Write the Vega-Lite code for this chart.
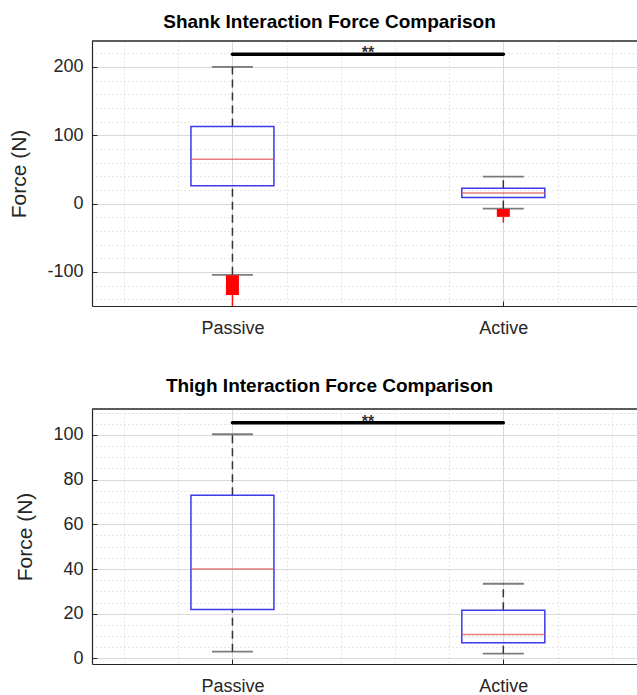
{
  "$schema": "https://vega.github.io/schema/vega-lite/v6.json",
  "background": "white",
  "padding": {"left": 8, "top": 13, "right": 0, "bottom": 0},
  "spacing": 39,
  "config": {
    "view": {"stroke": null},
    "font": "Liberation Sans",
    "title": {"font": "Liberation Sans", "fontSize": 19, "fontWeight": "bold", "color": "#000000", "offset": 8, "frame": "group"},
    "axis": {
      "labelFont": "Liberation Sans", "labelFontSize": 18, "labelColor": "#262626", "labelOverlap": false,
      "titleFont": "Liberation Sans", "titleFontSize": 21, "titleFontWeight": "normal", "titleColor": "#262626",
      "domainColor": "#262626", "domainWidth": 1.2, "tickColor": "#262626", "tickSize": -5, "tickWidth": 1,
      "grid": true
    }
  },
  "datasets": {
    "shank": [
      {"group": "Passive", "pos": 1, "lo": -104.4, "q1": 25.9, "median": 64.9, "q3": 112.7, "hi": 200, "outLo": -134, "outHi": -105, "tailLo": -150, "tailHi": -134},
      {"group": "Active", "pos": 2, "lo": -7.3, "q1": 8.8, "median": 15.6, "q3": 22.4, "hi": 39.5, "outLo": -19.5, "outHi": -8, "tailLo": -28, "tailHi": -19.5}
    ],
    "thigh": [
      {"group": "Passive", "pos": 1, "lo": 3.0, "q1": 21.9, "median": 40.0, "q3": 73.0, "hi": 100.3},
      {"group": "Active", "pos": 2, "lo": 2.1, "q1": 7.0, "median": 10.7, "q3": 21.5, "hi": 33.4}
    ]
  },
  "vconcat": [
    {
      "title": {"text": "Shank Interaction Force Comparison", "dx": -35},
      "width": 545,
      "height": 265,
      "data": {"name": "shank"},
      "layer": [
        {
          "mark": {"type": "rule", "color": "#333333", "strokeWidth": 1.5, "strokeDash": [8, 5]},
          "encoding": {
            "x": {"field": "pos", "type": "quantitative", "title": null,
              "scale": {"domain": [0.5, 2.475], "nice": false, "zero": false},
              "axis": {"values": [0.6, 0.8, 1, 1.2, 1.4, 1.6, 1.8, 2, 2.2, 2.4], "tickCount": 100,
                "labelExpr": "datum.value === 1 ? 'Passive' : (datum.value === 2 ? 'Active' : '')",
                "labelPadding": 18, "labelOverlap": false,
                "tickOpacity": {"condition": {"test": "datum.value === 1 || datum.value === 2", "value": 1}, "value": 0},
                "gridColor": {"condition": {"test": "datum.value === 1 || datum.value === 2", "value": "#d9d9d9"}, "value": "#cccccc"},
                "gridDash": {"condition": {"test": "datum.value === 1 || datum.value === 2", "value": []}, "value": [1, 3]}}},
            "y": {"field": "q3", "type": "quantitative", "title": "Force (N)",
              "scale": {"domain": [-150, 238], "nice": false, "zero": false},
              "axis": {"values": [-140, -120, -100, -80, -60, -40, -20, 0, 20, 40, 60, 80, 100, 120, 140, 160, 180, 200, 220], "tickCount": 100,
                "labelExpr": "datum.value % 100 === 0 ? '' + datum.value : ''",
                "labelPadding": 14, "titlePadding": 17, "labelOverlap": false,
                "tickOpacity": {"condition": {"test": "datum.value % 100 === 0", "value": 1}, "value": 0},
                "gridColor": {"condition": {"test": "datum.value % 100 === 0", "value": "#d9d9d9"}, "value": "#cccccc"},
                "gridDash": {"condition": {"test": "datum.value % 100 === 0", "value": []}, "value": [1, 3]}}},
            "y2": {"field": "hi"}
          }
        },
        {
          "mark": {"type": "rule", "color": "#333333", "strokeWidth": 1.5, "strokeDash": [8, 5]},
          "encoding": {
            "x": {"field": "pos", "type": "quantitative"},
            "y": {"field": "lo", "type": "quantitative", "title": "Force (N)"},
            "y2": {"field": "q1"}
          }
        },
        {
          "mark": {"type": "tick", "color": "#444444", "size": 41, "thickness": 1.8, "orient": "horizontal"},
          "encoding": {
            "x": {"field": "pos", "type": "quantitative"},
            "y": {"field": "hi", "type": "quantitative", "title": "Force (N)"}
          }
        },
        {
          "mark": {"type": "tick", "color": "#444444", "size": 41, "thickness": 1.8, "orient": "horizontal"},
          "encoding": {
            "x": {"field": "pos", "type": "quantitative"},
            "y": {"field": "lo", "type": "quantitative", "title": "Force (N)"}
          }
        },
        {
          "mark": {"type": "bar", "width": 83, "fill": "#ffffff", "fillOpacity": 0, "stroke": "#3a3ae8", "strokeWidth": 1.5},
          "encoding": {
            "x": {"field": "pos", "type": "quantitative"},
            "y": {"field": "q1", "type": "quantitative", "title": "Force (N)"},
            "y2": {"field": "q3"}
          }
        },
        {
          "mark": {"type": "tick", "color": "#e04a45", "size": 83, "thickness": 1.5, "orient": "horizontal"},
          "encoding": {
            "x": {"field": "pos", "type": "quantitative"},
            "y": {"field": "median", "type": "quantitative", "title": "Force (N)"}
          }
        },
        {
          "mark": {"type": "rule", "color": "#ff1010", "strokeWidth": 1.5},
          "encoding": {
            "x": {"field": "pos", "type": "quantitative"},
            "y": {"field": "tailLo", "type": "quantitative", "title": "Force (N)"},
            "y2": {"field": "tailHi"}
          }
        },
        {
          "mark": {"type": "bar", "width": 13, "color": "#ff0000"},
          "encoding": {
            "x": {"field": "pos", "type": "quantitative"},
            "y": {"field": "outLo", "type": "quantitative", "title": "Force (N)"},
            "y2": {"field": "outHi"}
          }
        },
        {
          "mark": {"type": "rule", "color": "#262626", "strokeWidth": 1.2},
          "encoding": {"y": {"datum": 238, "type": "quantitative", "title": "Force (N)"}}
        },
        {
          "data": {"values": [{"pos": 1, "to": 2, "level": 218.5}]},
          "mark": {"type": "rule", "color": "#000000", "strokeWidth": 3.5, "strokeCap": "round"},
          "encoding": {
            "x": {"field": "pos", "type": "quantitative"},
            "x2": {"field": "to"},
            "y": {"field": "level", "type": "quantitative", "title": "Force (N)"}
          }
        },
        {
          "data": {"values": [{"pos": 1.5, "level": 218.5, "label": "**"}]},
          "mark": {"type": "text", "fontSize": 16, "fontWeight": "bold", "color": "#333333", "baseline": "alphabetic", "dy": 4},
          "encoding": {
            "x": {"field": "pos", "type": "quantitative"},
            "y": {"field": "level", "type": "quantitative", "title": "Force (N)"},
            "text": {"field": "label"}
          }
        }
      ]
    },
    {
      "title": {"text": "Thigh Interaction Force Comparison", "dx": -35},
      "width": 545,
      "height": 255,
      "data": {"name": "thigh"},
      "layer": [
        {
          "mark": {"type": "rule", "color": "#333333", "strokeWidth": 1.5, "strokeDash": [8, 5]},
          "encoding": {
            "x": {"field": "pos", "type": "quantitative", "title": null,
              "scale": {"domain": [0.5, 2.475], "nice": false, "zero": false},
              "axis": {"values": [0.6, 0.8, 1, 1.2, 1.4, 1.6, 1.8, 2, 2.2, 2.4], "tickCount": 100,
                "labelExpr": "datum.value === 1 ? 'Passive' : (datum.value === 2 ? 'Active' : '')",
                "labelPadding": 18, "labelOverlap": false,
                "tickOpacity": {"condition": {"test": "datum.value === 1 || datum.value === 2", "value": 1}, "value": 0},
                "gridColor": {"condition": {"test": "datum.value === 1 || datum.value === 2", "value": "#d9d9d9"}, "value": "#cccccc"},
                "gridDash": {"condition": {"test": "datum.value === 1 || datum.value === 2", "value": []}, "value": [1, 3]}}},
            "y": {"field": "q3", "type": "quantitative", "title": "Force (N)",
              "scale": {"domain": [-2.5, 111.6], "nice": false, "zero": false},
              "axis": {"values": [0, 5, 10, 15, 20, 25, 30, 35, 40, 45, 50, 55, 60, 65, 70, 75, 80, 85, 90, 95, 100, 105, 110], "tickCount": 100,
                "labelExpr": "datum.value % 20 === 0 ? '' + datum.value : ''",
                "labelPadding": 14, "titlePadding": 17, "labelOverlap": false,
                "tickOpacity": {"condition": {"test": "datum.value % 20 === 0", "value": 1}, "value": 0},
                "gridColor": {"condition": {"test": "datum.value % 20 === 0", "value": "#d9d9d9"}, "value": "#cccccc"},
                "gridDash": {"condition": {"test": "datum.value % 20 === 0", "value": []}, "value": [1, 3]}}},
            "y2": {"field": "hi"}
          }
        },
        {
          "mark": {"type": "rule", "color": "#333333", "strokeWidth": 1.5, "strokeDash": [8, 5]},
          "encoding": {
            "x": {"field": "pos", "type": "quantitative"},
            "y": {"field": "lo", "type": "quantitative", "title": "Force (N)"},
            "y2": {"field": "q1"}
          }
        },
        {
          "mark": {"type": "tick", "color": "#444444", "size": 41, "thickness": 1.8, "orient": "horizontal"},
          "encoding": {
            "x": {"field": "pos", "type": "quantitative"},
            "y": {"field": "hi", "type": "quantitative", "title": "Force (N)"}
          }
        },
        {
          "mark": {"type": "tick", "color": "#444444", "size": 41, "thickness": 1.8, "orient": "horizontal"},
          "encoding": {
            "x": {"field": "pos", "type": "quantitative"},
            "y": {"field": "lo", "type": "quantitative", "title": "Force (N)"}
          }
        },
        {
          "mark": {"type": "bar", "width": 83, "fill": "#ffffff", "fillOpacity": 0, "stroke": "#3a3ae8", "strokeWidth": 1.5},
          "encoding": {
            "x": {"field": "pos", "type": "quantitative"},
            "y": {"field": "q1", "type": "quantitative", "title": "Force (N)"},
            "y2": {"field": "q3"}
          }
        },
        {
          "mark": {"type": "tick", "color": "#e04a45", "size": 83, "thickness": 1.5, "orient": "horizontal"},
          "encoding": {
            "x": {"field": "pos", "type": "quantitative"},
            "y": {"field": "median", "type": "quantitative", "title": "Force (N)"}
          }
        },
        {
          "mark": {"type": "rule", "color": "#262626", "strokeWidth": 1.2},
          "encoding": {"y": {"datum": 111.6, "type": "quantitative", "title": "Force (N)"}}
        },
        {
          "data": {"values": [{"pos": 1, "to": 2, "level": 105.5}]},
          "mark": {"type": "rule", "color": "#000000", "strokeWidth": 3.5, "strokeCap": "round"},
          "encoding": {
            "x": {"field": "pos", "type": "quantitative"},
            "x2": {"field": "to"},
            "y": {"field": "level", "type": "quantitative", "title": "Force (N)"}
          }
        },
        {
          "data": {"values": [{"pos": 1.5, "level": 105.5, "label": "**"}]},
          "mark": {"type": "text", "fontSize": 16, "fontWeight": "bold", "color": "#333333", "baseline": "alphabetic", "dy": 4},
          "encoding": {
            "x": {"field": "pos", "type": "quantitative"},
            "y": {"field": "level", "type": "quantitative", "title": "Force (N)"},
            "text": {"field": "label"}
          }
        }
      ]
    }
  ]
}
